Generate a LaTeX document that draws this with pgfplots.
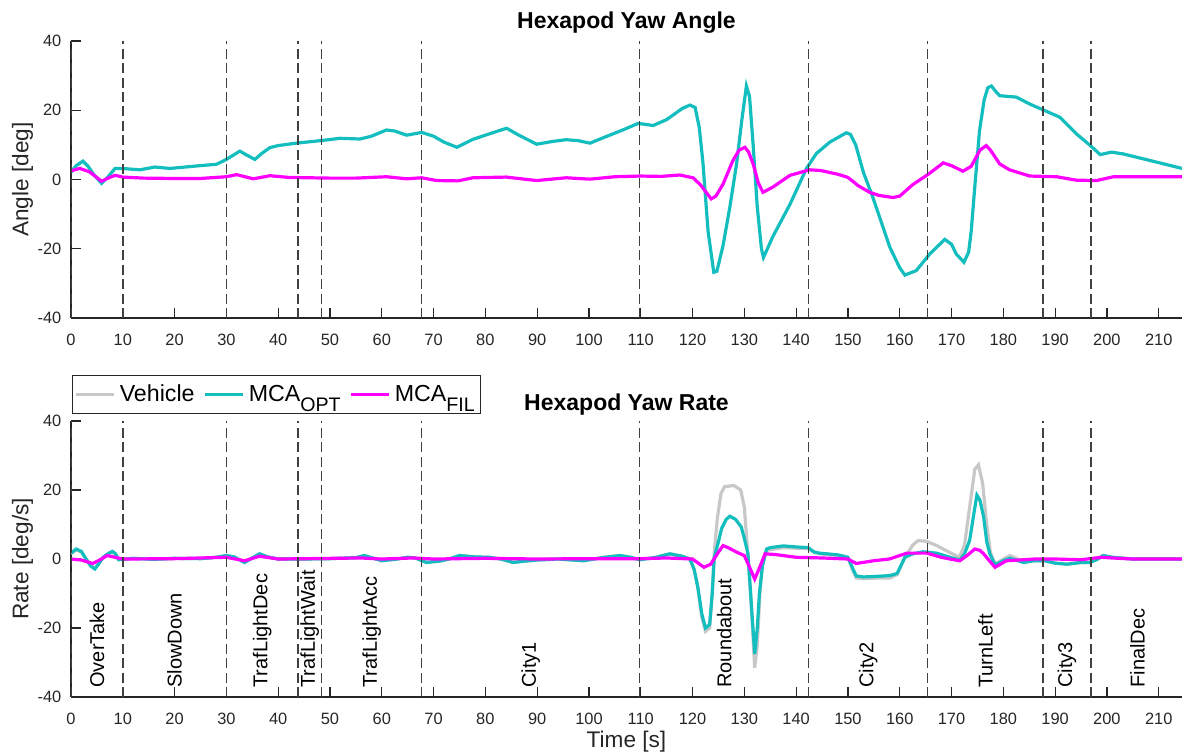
\documentclass[border=0pt]{standalone}
\usepackage{fontspec}
\setmainfont{Liberation Sans}
\usepackage{pgfplots}
\pgfplotsset{compat=1.18}

\definecolor{vehgray}{RGB}{200,200,200}
\definecolor{optcyan}{RGB}{20,190,190}
\definecolor{filmag}{RGB}{255,0,255}
\definecolor{axgray}{RGB}{38,38,38}

\tikzset{evline/.style={black!75, line width=0.75pt, dash pattern=on 5pt off 2.2pt}}
\newcommand{\lsub}[1]{\raisebox{-5pt}{\fontsize{9.8}{11}\selectfont #1}}

\pgfplotsset{
  hexa/.style={
    width=555.5pt, scale only axis,
    xmin=0, xmax=214.5, ymin=-40, ymax=40,
    xtick={0,10,...,210}, ytick={-40,-20,...,40},
    axis lines=left,
    axis line style={-, draw=axgray, line width=0.6pt},
    tick align=inside, major tick length=5pt,
    tick style={axgray, line width=0.6pt},
    tick label style={font=\fontsize{8.2}{9}\selectfont, text=axgray},
    /pgf/number format/assume math mode=true,
    xticklabel style={yshift=-4.5pt},
    yticklabel style={xshift=-1.3pt},
    every axis y label/.style={at={(axis description cs:-0.0437,0.5)}, rotate=90, anchor=center,
      font=\fontsize{11.3}{13}\selectfont, text=axgray},
    every axis x label/.style={at={(axis description cs:0.5,-0.163)}, anchor=center,
      font=\fontsize{11.3}{13}\selectfont, text=axgray},
    title style={font=\bfseries\fontsize{11.5}{13}\selectfont, anchor=base, at={(0.5,1)}},
  },
  optline/.style={optcyan, line width=1.6pt},
  filline/.style={filmag, line width=1.6pt},
  vehline/.style={vehgray, line width=1.6pt},
}

\begin{document}
\begin{tikzpicture}

% ---------------- top: yaw angle ----------------
\begin{axis}[hexa, height=138.5pt, at={(0,189.5pt)}, anchor=south west,
  title={Hexapod Yaw Angle}, title style={yshift=0.5pt},
  ylabel={Angle [deg]}]
\addplot[optline] coordinates {
(0,2.1)(1,4)(2.3,5.3)(3.3,3.8)(4.5,1.2)(5.9,-1.1)(7,0.5)(8.5,3.2)(10.7,3.1)(13.3,2.8)
(16.2,3.6)(19.1,3.2)(22,3.6)(24.9,4.0)(28.1,4.4)(30,5.8)(32.6,8.2)(34,7)(35.5,5.8)(36.8,7.5)
(38.4,9.2)(40,9.8)(43.5,10.5)(48.7,11.3)(51.9,11.9)(55.8,11.7)(58,12.5)(60.9,14.3)(62.5,14)
(64.8,12.8)(67.7,13.6)(70,12.5)(72,10.8)(74.5,9.3)(77.6,11.6)(80.8,13.2)(84.1,14.8)(86.6,12.7)
(89.9,10.2)(93,11)(95.6,11.5)(98,11.2)(100.2,10.5)(102,11.6)(104,12.8)(107,14.6)(109.5,16.2)
(112.4,15.6)(115,17.3)(118,20.5)(119.5,21.5)(120.5,20.8)(121.3,15)(122,5)(123,-15)(124.1,-26.8)
(124.7,-26.5)(125.9,-19)(127.2,-8)(128.5,4.5)(129.5,17)(130.4,27)(131,24)(131.7,10)(132.5,-8)
(133.3,-20)(133.7,-22.5)(135.5,-16.5)(138.8,-7.2)(142,3.2)(143.9,7.5)(146.5,10.8)(149.7,13.5)
(150.5,13)(151.5,10)(153,2)(154.8,-5.1)(158.1,-19.6)(160,-25.5)(161,-27.6)(163.2,-26.3)
(165.8,-21.5)(168.7,-17.3)(170,-18.7)(170.9,-21.5)(172.4,-23.9)(173.3,-21)(173.8,-15)(174.5,-2)
(175.4,14)(176.3,23)(177,26.5)(177.7,27)(178.5,25.5)(179.3,24.2)(182.5,23.8)(185.1,21.8)
(188,19.9)(190.9,18)(194.1,13.2)(196.8,9.8)(198.7,7.2)(200.9,7.9)(203.1,7.4)(208.3,5.5)(214.5,3.2)
};
\addplot[filline] coordinates {
(0,2.5)(1.7,3.2)(3.6,2.2)(5.9,-0.5)(7,0.3)(8.5,1.2)(10,0.7)(14,0.4)(20,0.3)(25,0.3)(30,0.8)
(32,1.4)(35.2,0.2)(38.4,1.1)(42,0.6)(50,0.4)(55,0.4)(60.9,0.8)(64.8,0.2)(67.7,0.5)(70.6,-0.3)
(74.7,-0.4)(77.6,0.5)(84,0.7)(89.9,-0.3)(95.6,0.5)(100.2,0.1)(105,0.8)(109.8,1.0)(114,0.9)
(117.5,1.3)(120.1,0.5)(121.5,-1.5)(123.6,-5.6)(124.5,-4.8)(125.9,-1.3)(127.8,5.5)(129,8.5)
(130.1,9.3)(130.8,8)(131.7,4.5)(132.7,-1)(133.6,-3.7)(135.5,-2.2)(138.8,1.2)(142.6,2.8)
(144.7,2.6)(148.1,1.5)(150,0.6)(152,-1.8)(154.2,-3.7)(156,-4.6)(158.7,-5.2)(160,-4.8)
(162.5,-1.5)(165.5,1.5)(168.4,4.8)(170,4)(172.2,2.4)(173.8,3.8)(175.5,8.5)(176.7,9.8)
(177.5,8.5)(179.3,4.5)(181.2,2.8)(185.1,1.0)(190.3,0.8)(194.1,-0.2)(198,-0.3)(201.3,0.8)(214.5,0.8)
};
\pgfplotsinvokeforeach{0,10,30,43.8,48.4,67.7,109.8,142.4,165.4,187.7,196.9}{
  \draw[evline] (axis cs:#1,-40) -- (axis cs:#1,40);
}
\end{axis}

% ---------------- bottom: yaw rate ----------------
\begin{axis}[hexa, height=138pt, at={(0,0)}, anchor=south west,
  title={Hexapod Yaw Rate}, title style={yshift=-0.5pt},
  ylabel={Rate [deg/s]}, xlabel={Time [s]},
  legend columns=3,
  legend style={at={(axis description cs:0,1)}, anchor=south west, yshift=3.5pt, xshift=0.5pt,
    font=\fontsize{11.6}{13}\selectfont, draw=axgray, line width=0.6pt,
    inner xsep=1pt, inner ysep=2.5pt,
    /tikz/every even column/.append style={column sep=2.5pt}},
  legend cell align=left,
  legend image code/.code={\draw[#1] (0pt,0pt) -- (19pt,0pt);}]
\addplot[vehline] coordinates {
(0,1.5)(1,2.7)(2,2.0)(2.7,0.5)(3.8,-2)(4.6,-2.7)(5.3,-1.4)(6.2,0.5)(7.2,1.5)(8,2.0)(8.6,1.4)
(9.2,-0.2)(12,0.2)(16,-0.1)(20,0.2)(25,0.1)(28,0.5)(30,1.0)(31.5,0.6)(33.5,-1.0)(35,0.3)
(36.4,1.5)(38,0.6)(40,0)(45,0)(50,0.1)(55,0.4)(56.6,1.0)(58,0.4)(60,-0.5)(63,0)(65,0.5)
(66.5,0.3)(68.6,-1)(71.2,-0.6)(73,0)(75,1)(78,0.6)(80.8,0.5)(83,0)(85.4,-1)(87,-0.7)(89.9,-0.3)
(94,0)(99,-0.5)(103,0.5)(106,1)(108,0.5)(109.8,-0.2)(113,0.5)(115.6,1.5)(118,0.8)(119.5,0)
(120.3,-3)(121,-8)(121.8,-17)(122.5,-21)(123.3,-20)(123.8,-10)(124.2,2)(124.8,12)(125.5,19)
(126.2,21)(128,21.3)(129.3,20)(130,15)(130.5,5)(131.2,-10)(132,-31.5)(132.5,-25)(133,-10)
(133.5,-1)(134.3,2.5)(137.5,3.3)(142.3,3.0)(143.5,2)(144.5,1.5)(148.1,1.0)(150,0.3)(151,-3.5)
(151.6,-5.5)(153,-5.7)(156,-5.5)(158.1,-5.5)(159.5,-4.5)(161,0.5)(162.5,4)(163.5,5.3)(165,5.2)
(167,4)(169.5,2)(171.5,0.5)(172.5,4)(173.5,15)(174.5,26)(175.2,27.3)(176,22)(176.8,10)(177.5,2)
(178.4,-1.5)(180,0)(181.3,1)(183.9,-0.7)(186,-0.5)(188,-0.5)(190,-1.2)(192.3,-1.5)(195,-1)
(196.7,-1)(198,-0.2)(199.3,1)(201,0.5)(205,0)(214.5,0)
};
\addlegendentry{Vehicle}
\addplot[optline] coordinates {
(0,1.7)(1,2.9)(2,2.2)(2.7,0.5)(3.8,-2)(4.6,-2.9)(5.3,-1.5)(6.2,0.5)(7.2,1.6)(8,2.2)(8.6,1.5)
(9.2,-0.2)(12,0.2)(16,-0.1)(20,0.2)(25,0.1)(28,0.5)(30,1.0)(31.5,0.6)(33.5,-1.0)(35,0.3)
(36.4,1.5)(38,0.6)(40,0)(45,0)(50,0.1)(55,0.4)(56.6,1.0)(58,0.4)(60,-0.5)(63,0)(65,0.5)
(66.5,0.3)(68.6,-1)(71.2,-0.6)(73,0)(75,1)(78,0.6)(80.8,0.5)(83,0)(85.4,-1)(87,-0.7)(89.9,-0.3)
(94,0)(99,-0.5)(103,0.5)(106,1)(108,0.5)(109.8,-0.2)(113,0.5)(115.6,1.5)(118,0.8)(119.5,0)
(120.3,-3)(121,-8)(121.8,-16)(122.5,-20)(123.3,-19)(123.8,-10)(124.2,0.5)(125,5)(125.6,8.8)
(126.5,11.5)(127.2,12.4)(128.3,11.5)(129.4,9.3)(130,6)(130.7,1.5)(131.3,-12)(132,-27.5)
(132.5,-20)(132.9,-10.2)(133.5,-2)(134.3,2.9)(135,3.3)(137.5,3.8)(140,3.5)(142.3,3.3)(143.5,2)
(144.5,1.7)(148.1,1.2)(150,0.5)(151,-3)(151.6,-4.9)(153,-5.2)(156,-5)(158.1,-4.8)(159.5,-4.2)
(161,0.5)(162.5,1.5)(164.5,2.1)(167.1,1.7)(169.7,0.5)(171.6,-0.3)(172.5,1.5)(173.5,5.4)
(174.3,13)(174.9,18.5)(175.5,17)(176.2,12.2)(176.8,5)(177.4,1.5)(178.4,-1.7)(180,-0.5)
(181.3,0.2)(183.9,-1)(186,-0.5)(188,-0.5)(190,-1.2)(192.3,-1.5)(195,-1)(196.7,-1)(198,-0.2)
(199.3,1)(201,0.5)(205,0)(214.5,0)
};
\addlegendentry{MCA\lsub{OPT}}
\addplot[filline] coordinates {
(0,0)(2,-0.3)(4.2,-1.3)(5.5,-0.3)(7,1)(8.5,0.5)(10,0)(20,0.1)(30,0.5)(33.5,-0.5)(36.4,0.8)
(40,0)(56,0.3)(60,0)(66,0.3)(70,0)(80,0.2)(90,0)(100,0.1)(110,0.1)(115,0.3)(120,0)(122.2,-2.4)
(123.5,-1.5)(125,2)(125.9,3.9)(127,3.2)(128.5,2)(130,1)(131.2,-3)(132,-5.8)(132.8,-3)(134,1.5)
(136,1.3)(140,0.5)(145,0.3)(150,0)(151.6,-1.3)(155,-0.5)(158,0)(161.4,1.7)(165.3,1.7)(168,0.5)
(169.7,0)(171.6,-0.5)(173,1)(174.5,2.9)(175.5,2.5)(176.2,1.5)(177.3,-0.5)(178.4,-2.4)
(180.6,-0.5)(183,-0.3)(186,0)(190,0)(195,-0.2)(199,0.5)(201,0.3)(205,0)(214.5,0)
};
\addlegendentry{MCA\lsub{FIL}}
\pgfplotsinvokeforeach{0,10,30,43.8,48.4,67.7,109.8,142.4,165.4,187.7,196.9}{
  \draw[evline] (axis cs:#1,-40) -- (axis cs:#1,40);
}
\foreach \xp/\lab in {5/OverTake,20/SlowDown,36.9/TrafLightDec,46.1/TrafLightWait,
  58.05/TrafLightAcc,88.75/City1,126.1/Roundabout,153.9/City2,176.55/TurnLeft,
  192.3/City3,205.9/FinalDec}{
  \edef\temp{\noexpand\node[rotate=90, anchor=west, inner sep=0pt,
    font=\noexpand\fontsize{10}{12}\noexpand\selectfont]
    at (axis cs:\xp,-37.4) {\lab};}
  \temp
}
\end{axis}

\pgfresetboundingbox
\useasboundingbox (-35.5pt,-29pt) rectangle (555.5pt,348.5pt);
\end{tikzpicture}
\end{document}
